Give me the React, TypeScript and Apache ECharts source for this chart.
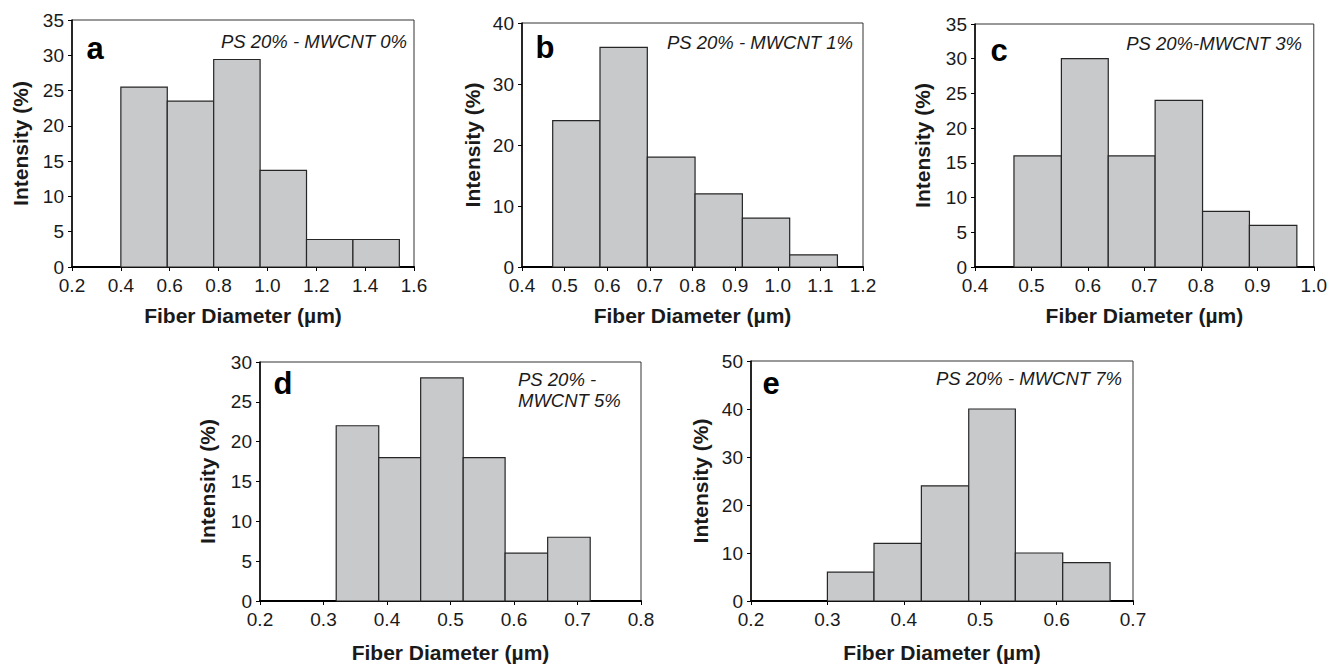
import React, { useEffect, useRef } from "react";
import * as echarts from "echarts";

// ---- Data (bin edges in µm, intensities in %) ----
const edgesA = [0.4, 0.59, 0.78, 0.97, 1.16, 1.35, 1.54];
const valuesA = [25.5, 23.5, 29.4, 13.7, 3.9, 3.9];

const edgesB = [0.472, 0.583, 0.694, 0.806, 0.917, 1.028, 1.14];
const valuesB = [24, 36, 18, 12, 8, 2];

const edgesC = [0.469, 0.553, 0.636, 0.719, 0.803, 0.886, 0.97];
const valuesC = [16, 30, 16, 24, 8, 6];

const edgesD = [0.32, 0.387, 0.453, 0.52, 0.586, 0.653, 0.72];
const valuesD = [22, 18, 28, 18, 6, 8];

const edgesE = [0.3, 0.361, 0.423, 0.485, 0.546, 0.608, 0.67];
const valuesE = [6, 12, 24, 40, 10, 8];

const panelLetters = ["a", "b", "c", "d", "e"];
const panelNotes = [
  "PS 20% - MWCNT 0%",
  "PS 20% - MWCNT 1%",
  "PS 20%-MWCNT 3%",
  "PS 20% -\nMWCNT 5%",
  "PS 20% - MWCNT 7%",
];
const xMins = [0.2, 0.4, 0.4, 0.2, 0.2];
const xMaxs = [1.6, 1.2, 1.0, 0.8, 0.7];
const xIntervals = [0.2, 0.1, 0.1, 0.1, 0.1];
const yMaxs = [35, 40, 35, 30, 50];
const yIntervals = [5, 10, 5, 5, 10];

const xTitle = "Fiber Diameter (µm)";
const yTitle = "Intensity (%)";

const FONT = 'Arial, "Liberation Sans", sans-serif';
const TEXT = "#1a1a1a";

// layout (pixels)
const grids = [
  { left: 72, top: 20, width: 342, height: 247 },
  { left: 522, top: 23, width: 341, height: 244 },
  { left: 975, top: 24, width: 341, height: 243 },
  { left: 260, top: 362, width: 381, height: 241 },
  { left: 751, top: 361, width: 382, height: 242 },
];

export default function App() {
  const ref = useRef<HTMLDivElement>(null);
  useEffect(() => {
    if (!ref.current) return;
    const chart = echarts.init(ref.current, undefined, { renderer: "svg" });
    const allEdges = [edgesA, edgesB, edgesC, edgesD, edgesE];
    const allValues = [valuesA, valuesB, valuesC, valuesD, valuesE];

    const gridOpts = grids.map((g) => ({
      left: g.left,
      top: g.top,
      width: g.width,
      height: g.height,
      show: true,
      borderColor: "#333",
      borderWidth: 1,
      backgroundColor: "transparent",
      containLabel: false,
    }));

    const xAxes = grids.map((_, i) => ({
      type: "value",
      gridIndex: i,
      min: xMins[i],
      max: xMaxs[i],
      interval: xIntervals[i],
      name: xTitle,
      nameLocation: "middle",
      nameGap: i < 3 ? 38 : 41,
      nameTextStyle: { fontFamily: FONT, fontWeight: "bold", fontSize: 21, color: TEXT },
      axisLine: { show: true, onZero: false, lineStyle: { color: "#000", width: 2 } },
      axisTick: { show: true, inside: false, length: 4, lineStyle: { color: "#000", width: 1 } },
      axisLabel: {
        show: true,
        margin: 9,
        fontFamily: FONT,
        fontSize: 19,
        color: TEXT,
        formatter: (v: number) => v.toFixed(1),
      },
      splitLine: { show: false },
    }));

    const yNameGaps = [41, 39, 42, 42, 40];
    const yAxes = grids.map((_, i) => ({
      type: "value",
      gridIndex: i,
      min: 0,
      max: yMaxs[i],
      interval: yIntervals[i],
      name: yTitle,
      nameLocation: "middle",
      nameGap: yNameGaps[i],
      nameRotate: 90,
      nameTextStyle: { fontFamily: FONT, fontWeight: "bold", fontSize: 21, color: TEXT },
      axisLine: { show: true, lineStyle: { color: "#000", width: 1.5 } },
      axisTick: { show: true, inside: false, length: 4, lineStyle: { color: "#000", width: 1 } },
      axisLabel: { show: true, margin: 8, fontFamily: FONT, fontSize: 19, color: TEXT },
      splitLine: { show: false },
    }));

    const series = allEdges.map((edges, i) => ({
      type: "custom",
      xAxisIndex: i,
      yAxisIndex: i,
      encode: { x: [0, 1], y: 2 },
      data: allValues[i].map((v, k) => [edges[k], edges[k + 1], v]),
      renderItem: (_params: any, api: any) => {
        const p0 = api.coord([api.value(0), 0]);
        const p1 = api.coord([api.value(1), api.value(2)]);
        return {
          type: "rect",
          shape: { x: p0[0], y: p1[1], width: p1[0] - p0[0], height: p0[1] - p1[1] },
          style: { fill: "#c8c9cb", stroke: "#262626", lineWidth: 1.2 },
        };
      },
      z: 1,
    }));

    const letterPos = [
      [95, 48],
      [545, 47],
      [999, 50],
      [283, 383],
      [771, 383],
    ];
    const notePos: any[] = [
      { x: 407, y: 41, align: "right" },
      { x: 853, y: 42, align: "right" },
      { x: 1302, y: 43, align: "right" },
      { x: 518, y: 390, align: "left" },
      { x: 1122, y: 378, align: "right" },
    ];

    const graphics: any[] = [];
    panelLetters.forEach((l, i) => {
      graphics.push({
        type: "text",
        x: letterPos[i][0],
        y: letterPos[i][1],
        style: {
          text: l,
          fontFamily: FONT,
          fontWeight: "bold",
          fontSize: 31,
          fill: "#000",
          align: "center",
          verticalAlign: "middle",
        },
      });
      graphics.push({
        type: "text",
        x: notePos[i].x,
        y: notePos[i].y,
        style: {
          text: panelNotes[i],
          fontFamily: FONT,
          fontStyle: "italic",
          fontSize: 18.5,
          lineHeight: 21,
          fill: TEXT,
          align: notePos[i].align,
          verticalAlign: "middle",
        },
      });
    });

    chart.setOption({
      animation: false,
      backgroundColor: "#fff",
      grid: gridOpts,
      xAxis: xAxes,
      yAxis: yAxes,
      series,
      graphic: graphics,
    } as any);
    return () => chart.dispose();
  }, []);
  return (
    <div
      ref={ref}
      style={{ position: "absolute", left: 0, top: 0, width: 1330, height: 664, background: "#fff" }}
    />
  );
}
